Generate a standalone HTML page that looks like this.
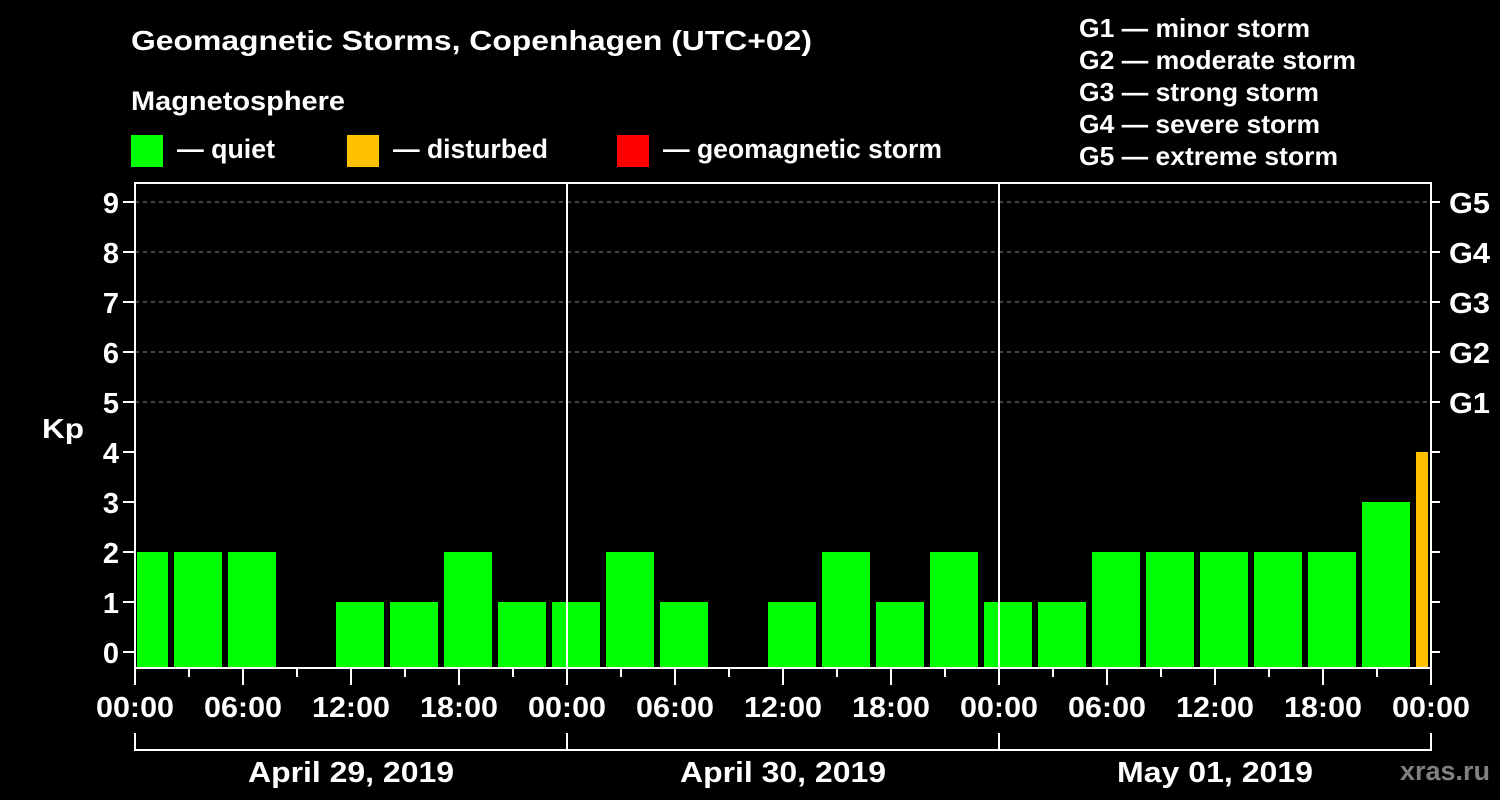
<!DOCTYPE html>
<html><head><meta charset="utf-8"><style>
html,body{margin:0;padding:0;background:#000;}
svg{display:block;font-family:"Liberation Sans",Arial,sans-serif;font-weight:bold;}
</style></head><body>
<svg id="chart" width="1500" height="800">
<rect width="1500" height="800" fill="#000"/>
<text x="131" y="50" fill="#fff" font-size="28" textLength="681" lengthAdjust="spacingAndGlyphs">Geomagnetic Storms, Copenhagen (UTC+02)</text>
<text x="131" y="110" fill="#fff" font-size="27" textLength="214" lengthAdjust="spacingAndGlyphs">Magnetosphere</text>
<g><rect x="131" y="135" width="32" height="32" fill="#00ff00"/><text x="177" y="158" fill="#fff" font-size="27" textLength="98" lengthAdjust="spacingAndGlyphs">— quiet</text></g>
<g><rect x="347" y="135" width="32" height="32" fill="#ffc000"/><text x="393" y="158" fill="#fff" font-size="27" textLength="155" lengthAdjust="spacingAndGlyphs">— disturbed</text></g>
<g><rect x="617" y="135" width="32" height="32" fill="#ff0000"/><text x="663" y="158" fill="#fff" font-size="27" textLength="279" lengthAdjust="spacingAndGlyphs">— geomagnetic storm</text></g>
<g fill="#fff" font-size="26">
<text x="1079" y="37" textLength="231" lengthAdjust="spacingAndGlyphs">G1 — minor storm</text>
<text x="1079" y="69" textLength="277" lengthAdjust="spacingAndGlyphs">G2 — moderate storm</text>
<text x="1079" y="101" textLength="240" lengthAdjust="spacingAndGlyphs">G3 — strong storm</text>
<text x="1079" y="133" textLength="241" lengthAdjust="spacingAndGlyphs">G4 — severe storm</text>
<text x="1079" y="165" textLength="259" lengthAdjust="spacingAndGlyphs">G5 — extreme storm</text>
</g>
<text x="42" y="438" fill="#fff" font-size="28" textLength="42" lengthAdjust="spacingAndGlyphs">Kp</text>
<text x="1490" y="780" fill="#808080" font-size="27" text-anchor="end">xras.ru</text>
<g id="plot"></g>
</svg>
<script>
const kpValues=[2,2,2,0,1,1,2,1,1,2,1,0,1,2,1,2,1,1,2,2,2,2,2,3,4];
const yTicks=[0,1,2,3,4,5,6,7,8,9];
const gLabels=["G1","G2","G3","G4","G5"];
const xTickLabels=["00:00","06:00","12:00","18:00","00:00","06:00","12:00","18:00","00:00","06:00","12:00","18:00","00:00"];
const dayLabels=["April 29, 2019","April 30, 2019","May 01, 2019"];
const NS="http://www.w3.org/2000/svg";
const L=135,R=1431,T=183,B=668;
const hx=h=>L+h*(R-L)/72;
const y=v=>652-v*50;
const g=document.getElementById('plot');
function mk(t,a,p){const e=document.createElementNS(NS,t);for(const k in a)e.setAttribute(k,a[k]);(p||g).appendChild(e);return e;}
yTicks.forEach(v=>{
 if(v>=5){const l=mk('line',{x1:L,x2:R,y1:y(v),y2:y(v),stroke:'#888','stroke-dasharray':'4,4','stroke-width':1});
 
 }
 const t=mk('line',{x1:L-12,x2:L,y1:y(v),y2:y(v),stroke:'#fff','stroke-width':2});
 
 
 const t2=mk('line',{x1:R,x2:R+9,y1:y(v),y2:y(v),stroke:'#fff','stroke-width':2});
 
 
 const tx=mk('text',{x:L-16,y:y(v)+11,fill:'#fff','font-size':29,'text-anchor':'end'});tx.textContent=v;
 
 
});
gLabels.forEach((s,i)=>{const tx=mk('text',{x:1449,y:y(5+i)+11,fill:'#fff','font-size':29,textLength:41,lengthAdjust:'spacingAndGlyphs'});tx.textContent=s;
 
 });
kpValues.forEach((v,k)=>{
 if(!v)return;
 let x0=Math.max(hx(3*k-1)+3,L+2), x1=Math.min(hx(3*k+2)-3,R-3);
 const col=v>=5?'#ff0000':(v>=4?'#ffc000':'#00ff00');
 const r=mk('rect',{x:x0,y:y(v),width:x1-x0,height:B-y(v),fill:col});
 
 
});
[24,48].forEach(h=>{const l=mk('line',{x1:hx(h),x2:hx(h),y1:T,y2:B,stroke:'#fff','stroke-width':2});
 
 });
const f=mk('rect',{x:L,y:T,width:R-L,height:B-T,fill:'none',stroke:'#fff','stroke-width':2});


for(let h=0;h<=72;h+=3){const major=h%6===0;
 const l=mk('line',{x1:hx(h),x2:hx(h),y1:B,y2:B+(major?17:9),stroke:'#fff','stroke-width':2});
 
 }
xTickLabels.forEach((s,i)=>{const tx=mk('text',{x:hx(i*6)-39,y:717,fill:'#fff','font-size':29,textLength:78,lengthAdjust:'spacingAndGlyphs'});tx.textContent=s;
 
 });
const dayW=[206,206,196];
dayLabels.forEach((s,i)=>{
 const a=hx(i*24),b=hx(i*24+24);
 const p=mk('path',{d:`M${a},733V750H${b}V733`,fill:'none',stroke:'#fff','stroke-width':2});
 
 
 const tx=mk('text',{x:(a+b)/2,y:782,fill:'#fff','font-size':29,'text-anchor':'middle',textLength:dayW[i],lengthAdjust:'spacingAndGlyphs'});tx.textContent=s;
 
 
});
</script>
</body></html>
